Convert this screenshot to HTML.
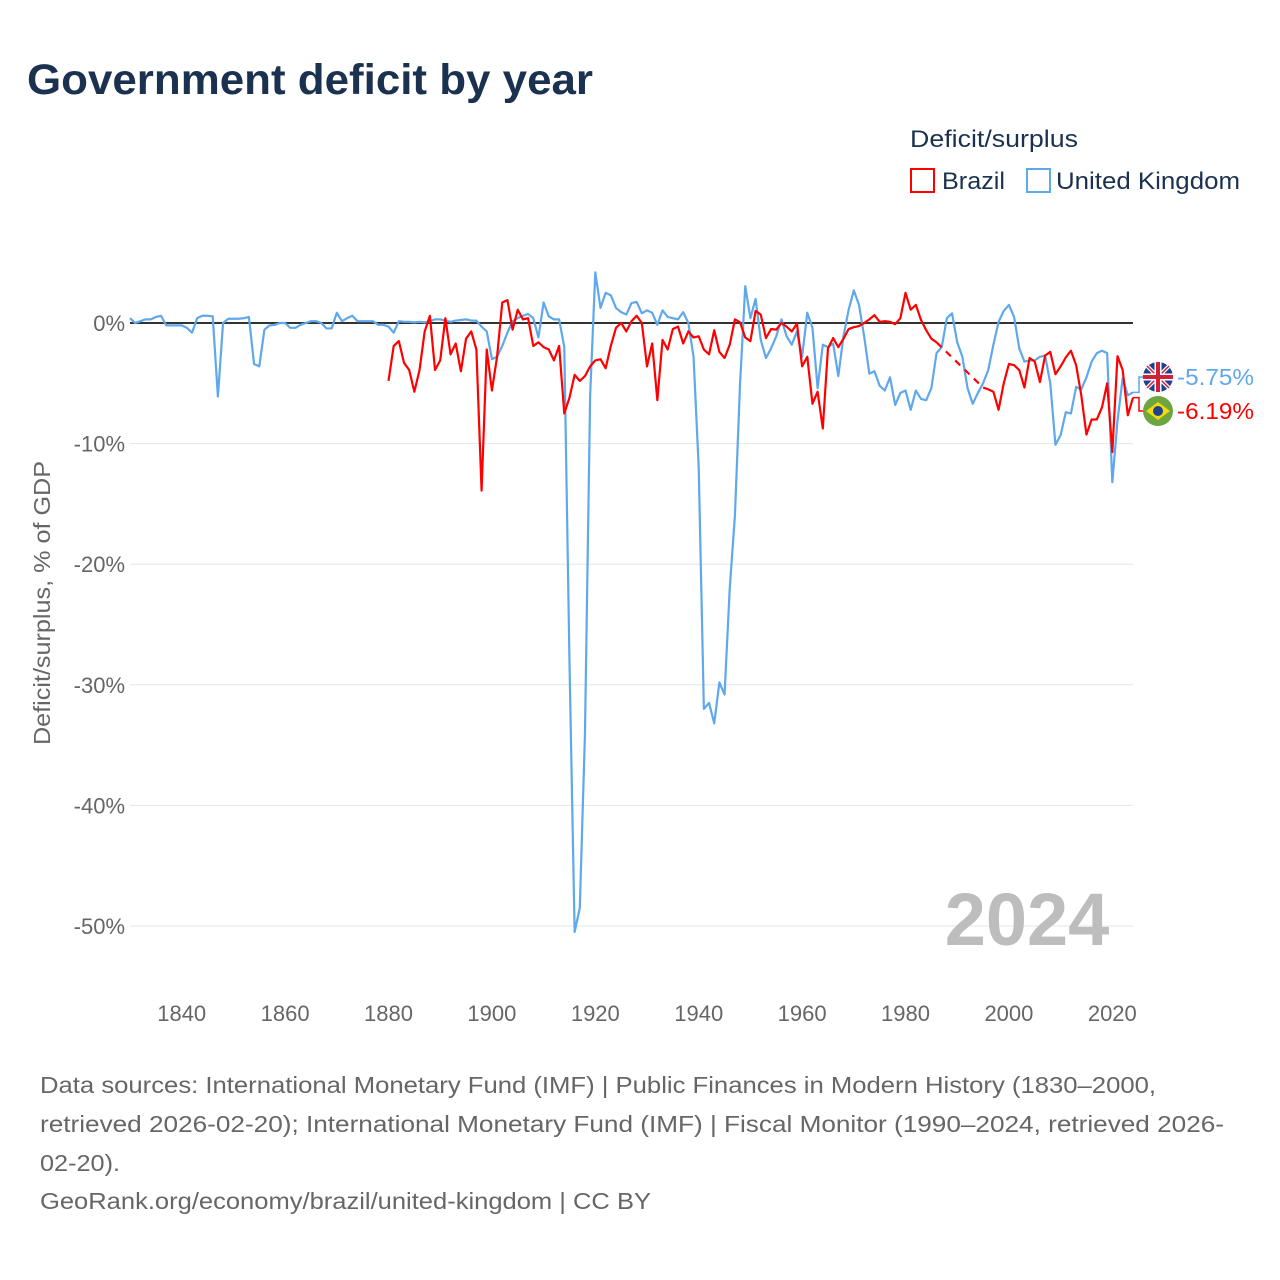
<!DOCTYPE html>
<html><head><meta charset="utf-8"><style>
html,body{margin:0;padding:0;background:#fff;}
svg{display:block;font-family:"Liberation Sans",sans-serif;}
</style></head><body>
<svg id="chart" width="1280" height="1280" viewBox="0 0 1280 1280">
<text x="27" y="94" font-size="43" font-weight="bold" fill="#1b3150" textLength="566" lengthAdjust="spacingAndGlyphs">Government deficit by year</text>
<text x="910" y="147" font-size="24" fill="#1b3150" textLength="168" lengthAdjust="spacingAndGlyphs">Deficit/surplus</text>
<g>
<rect x="911" y="169" width="23" height="23" fill="none" stroke="#ff0000" stroke-width="2"/>
<text x="942" y="189" font-size="24" fill="#1b3150" textLength="63" lengthAdjust="spacingAndGlyphs">Brazil</text>
</g>
<g>
<rect x="1027" y="169" width="23" height="23" fill="none" stroke="#5fa8ec" stroke-width="2"/>
<text x="1056" y="189" font-size="24" fill="#1b3150" textLength="184" lengthAdjust="spacingAndGlyphs">United Kingdom</text>
</g>
<g id="grid"></g>
<g id="yticks"></g>
<g id="xticks"></g>
<text transform="translate(50,603) rotate(-90)" text-anchor="middle" font-size="23" fill="#666" textLength="284" lengthAdjust="spacingAndGlyphs">Deficit/surplus, % of GDP</text>
<text x="1027" y="945" text-anchor="middle" font-size="74" font-weight="bold" fill="#bdbdbd">2024</text>
<g id="series"></g>
<g id="labels"></g>
<g font-size="23.5" fill="#666">
<text x="40" y="1093" textLength="1116" lengthAdjust="spacingAndGlyphs">Data sources: International Monetary Fund (IMF) | Public Finances in Modern History (1830–2000,</text>
<text x="40" y="1132" textLength="1184" lengthAdjust="spacingAndGlyphs">retrieved 2026-02-20); International Monetary Fund (IMF) | Fiscal Monitor (1990–2024, retrieved 2026-</text>
<text x="40" y="1171" textLength="80" lengthAdjust="spacingAndGlyphs">02-20).</text>
<text x="40" y="1209" textLength="611" lengthAdjust="spacingAndGlyphs">GeoRank.org/economy/brazil/united-kingdom | CC BY</text>
</g>
</svg>
<script>
const ukStart = 1830;
const ukValues = [0.4,0,0.15,0.3,0.3,0.5,0.6,-0.2,-0.2,-0.2,-0.2,-0.4,-0.8,0.4,0.6,0.6,0.55,-6.1,0,0.35,0.35,0.35,0.4,0.5,-3.4,-3.6,-0.55,-0.2,-0.15,0,0,-0.4,-0.4,-0.15,0,0.15,0.15,0,-0.45,-0.45,0.85,0.15,0.4,0.6,0.15,0.15,0.15,0.15,-0.15,-0.15,-0.3,-0.8,0.15,0.1,0.1,0.05,0.1,0.05,0.15,0.3,0.3,0.2,0.1,0.2,0.25,0.3,0.2,0.2,-0.3,-0.7,-3.0,-2.8,-1.9,-0.8,0.15,0.4,0.6,0.75,0.4,-1.2,1.7,0.55,0.3,0.3,-2,-28,-50.5,-48.5,-34,-6,4.2,1.25,2.5,2.3,1.25,0.9,0.7,1.65,1.75,0.8,1.05,0.85,-0.15,1.05,0.5,0.4,0.3,0.9,0,-2.8,-12,-32,-31.5,-33.2,-29.8,-30.8,-22,-16,-5,3.05,0.4,2.0,-1.4,-2.9,-2.1,-1.1,0.3,-1.1,-1.8,-0.7,-2.8,0.85,-0.4,-5.4,-1.8,-2,-1.7,-4.4,-1.1,1.1,2.7,1.5,-1.1,-4.2,-4,-5.2,-5.6,-4.5,-6.8,-5.8,-5.6,-7.2,-5.6,-6.3,-6.4,-5.4,-2.5,-2,0.4,0.8,-1.6,-2.8,-5.4,-6.7,-5.8,-5,-3.9,-1.8,0.1,1.0,1.5,0.5,-2.1,-3.2,-3.1,-3.1,-2.8,-2.7,-5,-10.1,-9.3,-7.4,-7.5,-5.3,-5.5,-4.5,-3.2,-2.5,-2.3,-2.5,-13.2,-8.1,-4.6,-6.0,-5.75];
const brStart = 1880;
const brValues = [-4.8,-1.9,-1.5,-3.3,-3.9,-5.7,-3.9,-0.7,0.6,-3.9,-3.1,0.4,-2.6,-1.7,-4.0,-1.3,-0.7,-2.2,-13.9,-2.2,-5.6,-2.8,1.7,1.9,-0.55,1.1,0.3,0.4,-1.9,-1.6,-2.0,-2.2,-3.1,-1.9,-7.5,-6.2,-4.3,-4.8,-4.4,-3.6,-3.1,-3.0,-3.75,-1.9,-0.4,0,-0.7,0.15,0.6,0,-3.6,-1.7,-6.4,-1.4,-2.2,-0.5,-0.3,-1.7,-0.7,-1.2,-1.1,-2.2,-2.6,-0.6,-2.4,-2.9,-1.8,0.3,0.05,-1.2,-1.5,1.0,0.7,-1.25,-0.5,-0.55,0,-0.3,-0.7,-0.05,-3.6,-2.8,-6.7,-5.7,-8.75,-2.1,-1.25,-2.0,-1.3,-0.5,-0.35,-0.25,0,0.3,0.65,0.1,0.15,0.1,-0.1,0.4,2.5,1.1,1.5,0.25,-0.6,-1.3,-1.6,null,null,null,null,null,null,null,null,-5.35,-5.5,-5.7,-7.2,-5.0,-3.4,-3.5,-3.9,-5.35,-2.9,-3.2,-4.9,-2.7,-2.4,-4.25,-3.6,-2.85,-2.3,-3.5,-6.0,-9.25,-8.0,-8.0,-7.0,-5.0,-10.7,-2.75,-3.9,-7.65,-6.19];
const yTicks = [0,-10,-20,-30,-40,-50];
const xTicks = [1840,1860,1880,1900,1920,1940,1960,1980,2000,2020];

const NS='http://www.w3.org/2000/svg';
const X0=130, X1=1133, Y0=323, PPY=12.06;
const xs = y => X0 + (y-1830)*(X1-X0)/194;
const ys = v => Y0 - v*PPY;
function mk(tag, attrs, parent){const e=document.createElementNS(NS,tag);for(const k in attrs)e.setAttribute(k,attrs[k]);parent.appendChild(e);return e;}
const grid=document.getElementById('grid'), yt=document.getElementById('yticks'), xt=document.getElementById('xticks');
yTicks.forEach(t=>{
  if(t!==0){const l=mk('line',{x1:X0,x2:X1,y1:ys(t),y2:ys(t),stroke:'#e6e6e6','stroke-width':1},grid);
  
  }
  const tx=mk('text',{x:125,y:ys(t)+8,'text-anchor':'end','font-size':22,fill:'#666'},yt);
  tx.textContent=t+'%';
  
  
});
xTicks.forEach(t=>{
  const tx=mk('text',{x:xs(t),y:1021,'text-anchor':'middle','font-size':22,fill:'#666'},xt);
  tx.textContent=t;
  
  
});
const zl=mk('line',{x1:X0,x2:X1,y1:Y0,y2:Y0,stroke:'#333','stroke-width':2},grid);


const series=document.getElementById('series');
function draw(vals,start,color,name){
  let segs=[],cur=[],lastPt=null,gaps=[];
  vals.forEach((v,i)=>{
    if(v===null){if(cur.length){segs.push(cur);lastPt=cur[cur.length-1];cur=[];}return;}
    const p=[xs(start+i),ys(v)];
    if(!cur.length&&lastPt){gaps.push([lastPt,p]);lastPt=null;}
    cur.push(p);
  });
  if(cur.length)segs.push(cur);
  segs.forEach(s=>{
    const pl=mk('polyline',{points:s.map(p=>p.join(',')).join(' '),fill:'none',stroke:color,'stroke-width':2.2,'stroke-linejoin':'round'},series);
    
    
  });
  gaps.forEach(g=>{
    const gl=mk('line',{x1:g[0][0],y1:g[0][1],x2:g[1][0],y2:g[1][1],stroke:color,'stroke-width':2.2,'stroke-dasharray':'7,6'},series);
    
    
  });
}
draw(ukValues,ukStart,'#5fa8ec','uk');
draw(brValues,brStart,'#ff0000','brazil');

const labels=document.getElementById('labels');
function endLabel(vals,start,color,ly,txt,name,flag){
  const v=vals[vals.length-1], x=xs(start+vals.length-1), y=ys(v);
  const c=mk('polyline',{points:`${x},${y} ${x+6},${y} ${x+6},${ly} ${x+12},${ly}`,fill:'none',stroke:color,'stroke-width':1.5},labels);
  
  
  const g=mk('g',{},labels);
  
  
  flag(g,1158,ly);
  const t=mk('text',{x:1177,y:ly+8,'font-size':23,fill:color,textLength:77,lengthAdjust:'spacingAndGlyphs'},labels);
  t.textContent=txt;
  
  
}
endLabel(ukValues,ukStart,'#5fa8ec',377,'-5.75%','uk',(g,cx,cy)=>{
  mk('circle',{cx,cy,r:15,fill:'#1f3f8f'},g);
  mk('path',{d:`M${cx-11},${cy-11}L${cx+11},${cy+11}M${cx+11},${cy-11}L${cx-11},${cy+11}`,stroke:'#fff','stroke-width':4},g);
  mk('path',{d:`M${cx-11},${cy-11}L${cx+11},${cy+11}M${cx+11},${cy-11}L${cx-11},${cy+11}`,stroke:'#d0203a','stroke-width':1.5},g);
  mk('path',{d:`M${cx-15},${cy}H${cx+15}M${cx},${cy-15}V${cy+15}`,stroke:'#fff','stroke-width':7},g);
  mk('path',{d:`M${cx-15},${cy}H${cx+15}M${cx},${cy-15}V${cy+15}`,stroke:'#d0203a','stroke-width':4},g);
});
endLabel(brValues,brStart,'#ff0000',411,'-6.19%','brazil',(g,cx,cy)=>{
  mk('circle',{cx,cy,r:15,fill:'#6da540'},g);
  mk('path',{d:`M${cx-12},${cy}L${cx},${cy-9}L${cx+12},${cy}L${cx},${cy+9}Z`,fill:'#f5d90a'},g);
  mk('circle',{cx,cy,r:5,fill:'#1f3f8f'},g);
});
</script>
</body></html>
